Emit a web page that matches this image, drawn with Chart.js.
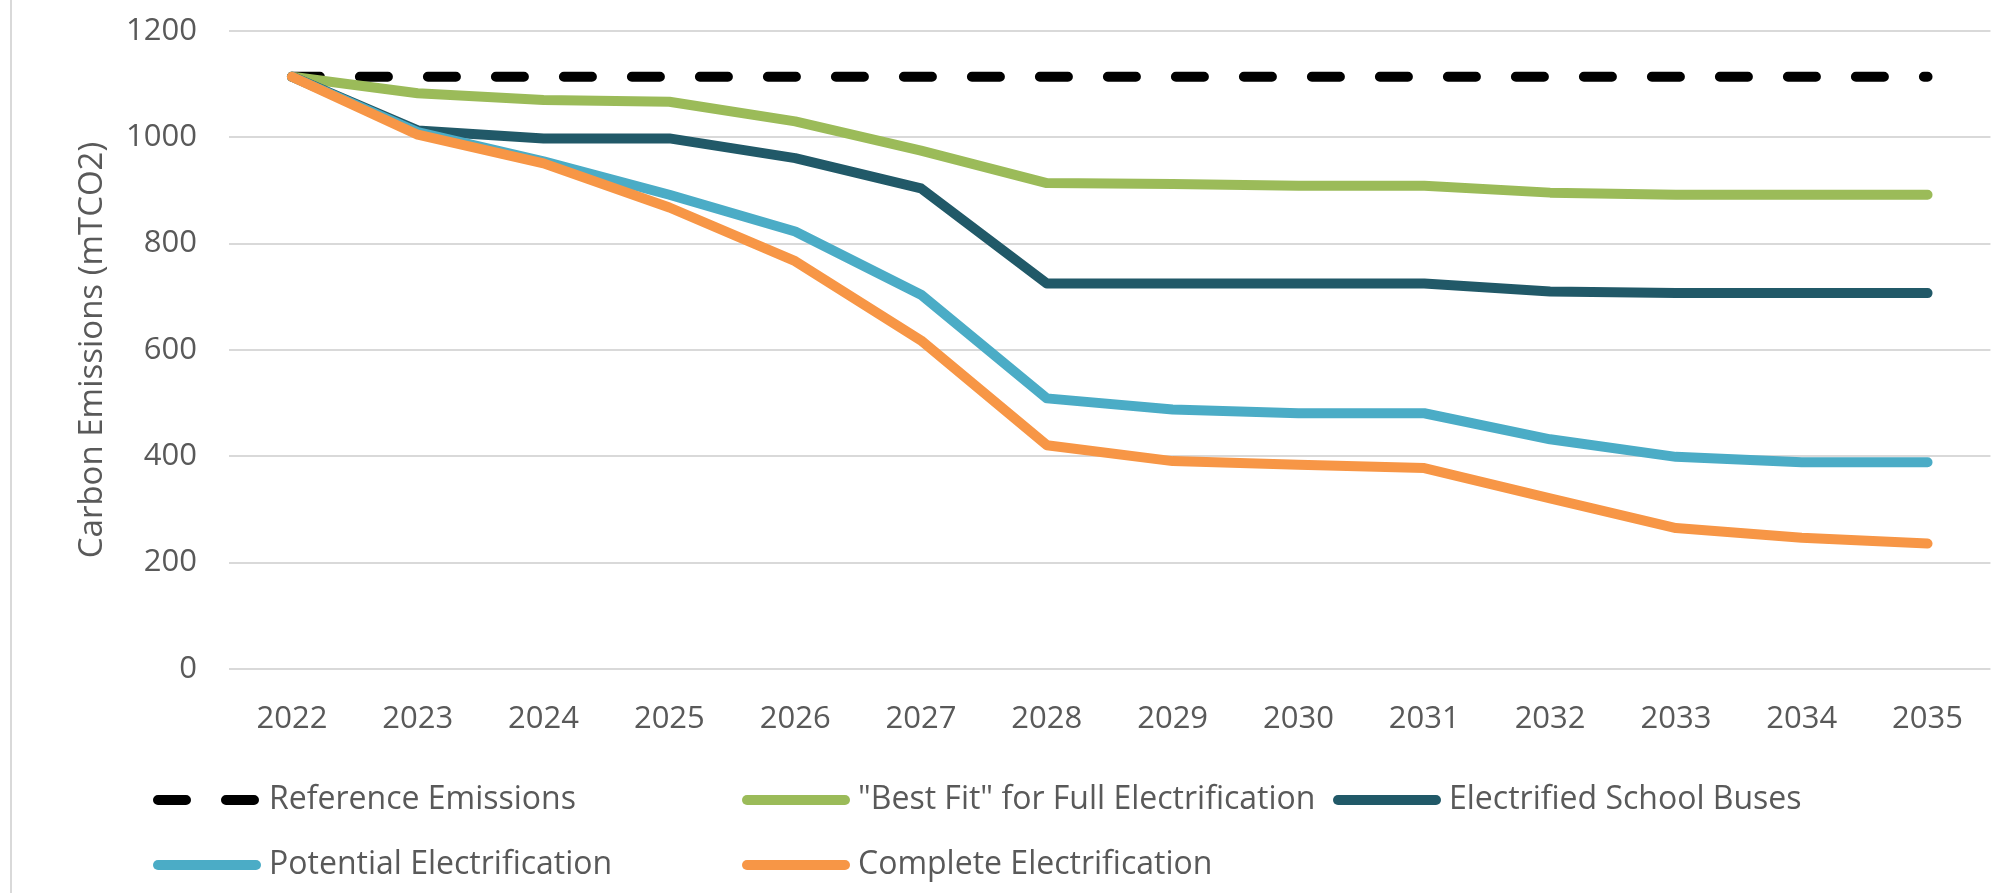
<!DOCTYPE html>
<html>
<head>
<meta charset="utf-8">
<script src="https://cdn.jsdelivr.net/npm/chart.js@4.4.1/dist/chart.umd.min.js"></script>
<style>
  html, body { margin: 0; padding: 0; background: #fff; }
  #wrap { position: relative; width: 1995px; height: 893px; }
</style>
</head>
<body>
<div id="wrap"><canvas id="emissions_chart"></canvas></div>
<script>
var years = ["2022", "2023", "2024", "2025", "2026", "2027", "2028", "2029", "2030", "2031", "2032", "2033", "2034", "2035"];
var referenceEmissions = [1114, 1114, 1114, 1114, 1114, 1114, 1114, 1114, 1114, 1114, 1114, 1114, 1114, 1114];
var bestFit = [1114, 1083, 1070, 1067, 1030, 975, 914, 912, 909, 909, 896, 892, 892, 892];
var schoolBuses = [1114, 1013, 998, 998, 961, 904, 725, 725, 725, 725, 710, 707, 707, 707];
var potential = [1114, 1010, 955, 892, 823, 704, 509, 488, 481, 481, 432, 399, 389, 389];
var complete = [1114, 1005, 951, 868, 767, 618, 421, 391, 384, 378, 321, 265, 247, 236];
var yTicks = [0, 200, 400, 600, 800, 1000, 1200];

var seriesNames = ["Reference Emissions", "\"Best Fit\" for Full Electrification", "Electrified School Buses", "Potential Electrification", "Complete Electrification"];
var seriesColors = ["#000000", "#9BBB59", "#215968", "#4BACC6", "#F79646"];

var textColor = "#595959";
var fontFamily = "'Open Sans', sans-serif";

function lineSet(i, values, dash) {
    return {
        label: seriesNames[i],
        data: values,
        borderColor: seriesColors[i],
        backgroundColor: seriesColors[i],
        borderWidth: 10,
        borderDash: dash || [],
        borderCapStyle: 'round',
        borderJoinStyle: 'round',
        pointRadius: 0,
        tension: 0,
        fill: false,
        order: 5 - i
    };
}

// excel-style legend: two rows, fixed columns
var legendPlugin = {
    id: 'excelLegend',
    afterDraw: function(chart) {
        var ctx = chart.ctx;
        var cols = [153, 742, 1333];
        var rows = [800, 865];
        ctx.save();
        chart.data.datasets.forEach(function(ds, i) {
            var x = cols[i < 3 ? i : i - 3];
            var y = rows[i < 3 ? 0 : 1];
            ctx.beginPath();
            ctx.lineWidth = 10;
            ctx.lineCap = 'round';
            ctx.strokeStyle = ds.borderColor;
            ctx.setLineDash(ds.borderDash);
            ctx.moveTo(x + 5, y);
            ctx.lineTo(x + 103, y);
            ctx.stroke();
            ctx.setLineDash([]);
            ctx.fillStyle = textColor;
            ctx.font = "32px " + fontFamily;
            ctx.textBaseline = 'middle';
            ctx.textAlign = 'left';
            ctx.fillText(ds.label, x + 116, y);
        });
        // chart frame, left edge
        ctx.beginPath();
        ctx.lineWidth = 2;
        ctx.strokeStyle = "#d9d9d9";
        ctx.moveTo(11, 0);
        ctx.lineTo(11, chart.height);
        ctx.stroke();
        ctx.restore();
    }
};

var ctx_line = document.getElementById("emissions_chart");

var chart = new Chart(ctx_line, {
    type: 'line',
    data: {
        labels: years,
        datasets: [
            lineSet(0, referenceEmissions, [28, 40]),
            lineSet(1, bestFit),
            lineSet(2, schoolBuses),
            lineSet(3, potential),
            lineSet(4, complete)
        ]
    },
    options: {
        responsive: true,
        maintainAspectRatio: false,
        animation: false,
        devicePixelRatio: 1,
        layout: { padding: { left: 0, right: 0, top: 31, bottom: 159 } },
        plugins: {
            legend: { display: false },
            tooltip: { enabled: false },
            title: { display: false }
        },
        scales: {
            x: {
                offset: true,
                grid: { display: false, drawTicks: false },
                border: { display: false },
                ticks: {
                    color: textColor,
                    font: { family: fontFamily, size: 31 },
                    padding: 32,
                    maxRotation: 0,
                    autoSkip: false
                },
                afterFit: function(scale) { scale.height = 65; }
            },
            y: {
                min: 0,
                max: 1200,
                afterBuildTicks: function(scale) {
                    scale.ticks = yTicks.map(function(v) { return { value: v }; });
                },
                grid: { color: "#d9d9d9", lineWidth: 2, drawTicks: false },
                border: { display: false },
                ticks: {
                    color: textColor,
                    font: { family: fontFamily, size: 31 },
                    padding: 32,
                    callback: function(value) { return String(value); }
                },
                title: {
                    display: true,
                    text: "Carbon Emissions (mTCO2)",
                    color: textColor,
                    font: { family: fontFamily, size: 33 },
                    padding: { top: 73, bottom: 0 }
                },
                afterFit: function(scale) {
                    scale.width = 229;
                    scale.paddingTop = 0;
                    scale.paddingBottom = 0;
                }
            }
        }
    },
    plugins: [legendPlugin]
});
</script>
</body>
</html>
